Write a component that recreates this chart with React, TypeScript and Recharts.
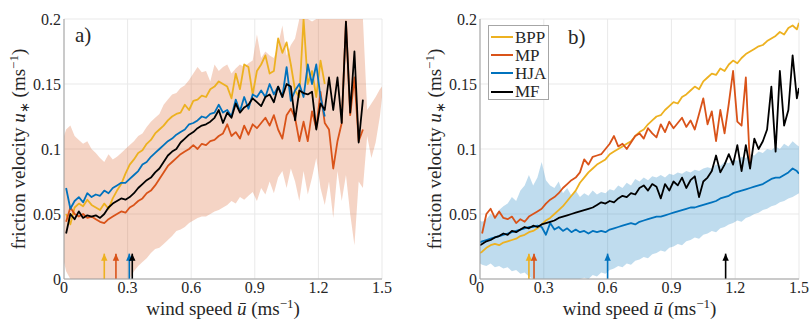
import {
  ComposedChart,
  Line,
  Area,
  XAxis,
  YAxis,
  CartesianGrid,
  ReferenceLine,
  ReferenceDot,
  Label,
} from "recharts";

const SERIF = '"Liberation Serif", "Times New Roman", serif';
const INK = "#262626";

const SERIES = ["BPP", "MP", "HJA", "MF"];
const COLORS = ["#EDB120", "#D95319", "#0072BD", "#000000"];

const X_TICKS = [0, 0.3, 0.6, 0.9, 1.2, 1.5];
const Y_TICKS = [0, 0.05, 0.1, 0.15, 0.2];
const Y_MAX = 0.2;

// wind speed bin centres (ms^-1)
const U = [
  0, 0.01, 0.03, 0.05, 0.07, 0.09, 0.11, 0.13, 0.15, 0.17, 0.19, 0.21, 0.23, 0.25, 0.27, 0.29,
  0.31, 0.33, 0.35, 0.37, 0.39, 0.41, 0.43, 0.45, 0.47, 0.49, 0.51, 0.53, 0.55, 0.57, 0.59,
  0.61, 0.63, 0.65, 0.67, 0.69, 0.71, 0.73, 0.75, 0.77, 0.79, 0.81, 0.83, 0.85, 0.87, 0.89,
  0.91, 0.93, 0.95, 0.97, 0.99, 1.01, 1.03, 1.05, 1.07, 1.09, 1.11, 1.13, 1.15, 1.17, 1.19,
  1.21, 1.23, 1.25, 1.27, 1.29, 1.31, 1.33, 1.35, 1.37, 1.39, 1.41, 1.43, 1.45, 1.47, 1.49, 1.5,
];

// panel a) -- lines start at u = 0.01
const BPP_A = [
  0.050, 0.042, 0.055, 0.058, 0.056, 0.061, 0.057, 0.055, 0.053, 0.058,
  0.054, 0.062, 0.068, 0.073, 0.081, 0.088, 0.092, 0.097, 0.099, 0.104,
  0.107, 0.112, 0.115, 0.118, 0.122, 0.125, 0.127, 0.128, 0.134, 0.130,
  0.137, 0.138, 0.141, 0.140, 0.146, 0.148, 0.152, 0.150, 0.148, 0.139,
  0.158, 0.146, 0.165, 0.163, 0.142, 0.160, 0.165, 0.172, 0.158, 0.160,
  0.185, 0.174, 0.182, 0.165, 0.145, 0.140, 0.200, 0.150, 0.160, 0.140,
  0.168, 0.150,
];
const MP_A = [
  0.044, 0.055, 0.050, 0.048, 0.050, 0.047, 0.048, 0.046, 0.044, 0.043,
  0.046, 0.048, 0.050, 0.052, 0.051, 0.055, 0.057, 0.060, 0.062, 0.066,
  0.068, 0.072, 0.077, 0.082, 0.087, 0.090, 0.093, 0.096, 0.098, 0.100,
  0.103, 0.100, 0.104, 0.103, 0.106, 0.107, 0.110, 0.112, 0.119, 0.110,
  0.113, 0.108, 0.118, 0.111, 0.119, 0.116, 0.120, 0.124, 0.118, 0.126,
  0.115, 0.108, 0.126, 0.131, 0.124, 0.106, 0.121, 0.106, 0.129, 0.116,
  0.144, 0.120, 0.115, 0.085, 0.106, 0.120, 0.198, 0.126, 0.155, 0.106,
  0.115,
];
const HJA_A = [
  0.070, 0.054, 0.060, 0.063, 0.059, 0.066, 0.063, 0.065, 0.064, 0.068,
  0.066, 0.070, 0.072, 0.074, 0.074, 0.077, 0.080, 0.083, 0.088, 0.090,
  0.094, 0.097, 0.100, 0.103, 0.106, 0.108, 0.111, 0.113, 0.115, 0.119,
  0.120, 0.122, 0.125, 0.124, 0.127, 0.128, 0.134, 0.128, 0.130, 0.125,
  0.138, 0.129, 0.140, 0.131, 0.142, 0.140, 0.145, 0.140, 0.150, 0.142,
  0.148, 0.140, 0.163, 0.137, 0.145, 0.150, 0.140, 0.165, 0.150, 0.165,
  0.140, 0.125,
];
const MF_A = [
  0.035, 0.050, 0.046, 0.052, 0.047, 0.049, 0.048, 0.049, 0.047, 0.050,
  0.055, 0.058, 0.060, 0.062, 0.061, 0.063, 0.066, 0.070, 0.073, 0.076,
  0.078, 0.082, 0.085, 0.090, 0.095, 0.098, 0.100, 0.105, 0.108, 0.111,
  0.113, 0.116, 0.118, 0.119, 0.121, 0.124, 0.130, 0.120, 0.128, 0.124,
  0.135, 0.128, 0.132, 0.134, 0.139, 0.136, 0.133, 0.140, 0.142, 0.136,
  0.148, 0.140, 0.150, 0.148, 0.122, 0.145, 0.143, 0.142, 0.144, 0.115,
  0.135, 0.130, 0.155, 0.130, 0.155, 0.120, 0.198, 0.128, 0.175, 0.105,
  0.138,
];
const HI_A = [
  0.110, 0.115, 0.118, 0.110, 0.107, 0.104, 0.106, 0.100, 0.097, 0.093,
  0.090, 0.096, 0.092, 0.094, 0.097, 0.100, 0.103, 0.106, 0.110, 0.112,
  0.117, 0.121, 0.124, 0.127, 0.134, 0.138, 0.142, 0.143, 0.147, 0.149,
  0.153, 0.158, 0.163, 0.159, 0.160, 0.152, 0.165, 0.160, 0.163, 0.165,
  0.158, 0.162, 0.165, 0.163, 0.166, 0.168, 0.188, 0.170, 0.175, 0.172,
  0.170, 0.180, 0.195, 0.172, 0.180, 0.185, 0.200, 0.210, 0.210, 0.198,
  0.210, 0.210, 0.210, 0.205, 0.210, 0.210, 0.210, 0.210, 0.210, 0.210,
  0.210, 0.210, 0.130, 0.135, 0.140, 0.146, 0.148,
];
const LO_A = [
  0.013, 0.006, -0.010, -0.020, -0.020, -0.020, -0.020, -0.020, -0.020, -0.020,
  -0.020, -0.020, -0.020, -0.020, -0.015, -0.005, 0.000, 0.006, 0.010, 0.013,
  0.016, 0.020, 0.023, 0.024, 0.027, 0.030, 0.033, 0.037, 0.038, 0.040,
  0.043, 0.045, 0.047, 0.048, 0.048, 0.050, 0.052, 0.053, 0.055, 0.057,
  0.060, 0.058, 0.063, 0.061, 0.064, 0.067, 0.060, 0.070, 0.065, 0.075,
  0.066, 0.078, 0.083, 0.070, 0.085, 0.075, 0.060, 0.083, 0.065, 0.078,
  0.093, 0.070, 0.057, 0.075, 0.047, 0.083, 0.060, 0.080, 0.050, 0.026,
  0.075, 0.070, 0.110, 0.093, 0.105, 0.125, 0.140,
];

// panel b)
const BPP_B = [
  0.020, 0.021, 0.024, 0.026, 0.027, 0.026, 0.028, 0.029, 0.030, 0.031,
  0.033, 0.034, 0.036, 0.037, 0.039, 0.042, 0.045, 0.047, 0.050, 0.053,
  0.056, 0.060, 0.064, 0.068, 0.074, 0.078, 0.082, 0.085, 0.088, 0.090,
  0.092, 0.096, 0.098, 0.100, 0.102, 0.104, 0.106, 0.110, 0.113, 0.115,
  0.119, 0.122, 0.125, 0.126, 0.130, 0.133, 0.136, 0.135, 0.140, 0.142,
  0.145, 0.148, 0.146, 0.152, 0.155, 0.158, 0.157, 0.162, 0.160, 0.165,
  0.168, 0.166, 0.170, 0.173, 0.175, 0.177, 0.179, 0.180, 0.183, 0.185,
  0.187, 0.190, 0.188, 0.193, 0.195, 0.192, 0.197,
];
// starts at u = 0.01, ends at 1.27
const MP_B = [
  0.035, 0.050, 0.054, 0.047, 0.052, 0.047, 0.046, 0.048, 0.043, 0.046,
  0.044, 0.048, 0.050, 0.052, 0.054, 0.058, 0.061, 0.063, 0.066, 0.070,
  0.073, 0.076, 0.078, 0.082, 0.092, 0.088, 0.094, 0.095, 0.096, 0.100,
  0.104, 0.110, 0.102, 0.104, 0.100, 0.105, 0.110, 0.112, 0.108, 0.116,
  0.112, 0.109, 0.119, 0.113, 0.121, 0.116, 0.120, 0.124, 0.117, 0.122,
  0.115, 0.127, 0.139, 0.119, 0.129, 0.106, 0.130, 0.112, 0.135, 0.160,
  0.121, 0.118, 0.155, 0.085,
];
const HJA_B = [
  0.028, 0.029, 0.030, 0.031, 0.032, 0.033, 0.034, 0.035, 0.036, 0.037,
  0.038, 0.039, 0.040, 0.040, 0.041, 0.040, 0.034, 0.043, 0.038, 0.040,
  0.037, 0.039, 0.036, 0.038, 0.036, 0.037, 0.035, 0.037, 0.036, 0.037,
  0.036, 0.038, 0.039, 0.040, 0.041, 0.042, 0.043, 0.042, 0.044, 0.045,
  0.046, 0.047, 0.048, 0.048, 0.049, 0.050, 0.051, 0.052, 0.053, 0.054,
  0.055, 0.055, 0.056, 0.057, 0.058, 0.059, 0.060, 0.062, 0.063, 0.064,
  0.066, 0.067, 0.068, 0.069, 0.070, 0.071, 0.072, 0.073, 0.075, 0.077,
  0.078, 0.078, 0.080, 0.082, 0.085, 0.083, 0.081,
];
const MF_B = [
  0.026, 0.027, 0.029, 0.030, 0.032, 0.033, 0.035, 0.034, 0.037, 0.036,
  0.038, 0.040, 0.039, 0.041, 0.040, 0.042, 0.043, 0.044, 0.045, 0.047,
  0.048, 0.049, 0.050, 0.051, 0.052, 0.053, 0.054, 0.055, 0.057, 0.059,
  0.058, 0.060, 0.059, 0.062, 0.064, 0.063, 0.066, 0.065, 0.070, 0.072,
  0.068, 0.073, 0.071, 0.062, 0.073, 0.068, 0.075, 0.072, 0.078, 0.070,
  0.076, 0.079, 0.063, 0.075, 0.078, 0.083, 0.095, 0.082, 0.088, 0.096,
  0.088, 0.103, 0.083, 0.103, 0.085, 0.108, 0.100, 0.106, 0.115, 0.148,
  0.098, 0.160, 0.118, 0.130, 0.172, 0.139, 0.147,
];
const HI_B = [
  0.045, 0.044, 0.046, 0.050, 0.048, 0.053, 0.056, 0.058, 0.063, 0.060,
  0.068, 0.072, 0.080, 0.072, 0.078, 0.090, 0.076, 0.072, 0.070, 0.075,
  0.066, 0.070, 0.064, 0.068, 0.063, 0.066, 0.064, 0.068, 0.065, 0.067,
  0.066, 0.069, 0.068, 0.072, 0.070, 0.074, 0.072, 0.077, 0.075, 0.078,
  0.076, 0.079, 0.078, 0.080, 0.078, 0.081, 0.080, 0.082, 0.081, 0.083,
  0.082, 0.084, 0.083, 0.085, 0.086, 0.085, 0.088, 0.087, 0.090, 0.089,
  0.092, 0.091, 0.094, 0.093, 0.096, 0.095, 0.098, 0.097, 0.100, 0.099,
  0.102, 0.100, 0.104, 0.102, 0.106, 0.103, 0.102,
];
const LO_B = [
  0.012, 0.011, 0.010, 0.012, 0.009, 0.010, 0.008, 0.009, 0.006, 0.007,
  0.004, 0.005, 0.002, 0.000, -0.003, -0.008, -0.010, -0.004, -0.006, -0.002,
  -0.005, -0.001, -0.003, 0.000, -0.002, 0.001, 0.000, 0.003, 0.002, 0.005,
  0.004, 0.007, 0.008, 0.010, 0.009, 0.012, 0.011, 0.014, 0.015, 0.017,
  0.016, 0.019, 0.020, 0.022, 0.021, 0.024, 0.025, 0.027, 0.026, 0.029,
  0.030, 0.032, 0.031, 0.034, 0.035, 0.037, 0.036, 0.039, 0.040, 0.042,
  0.043, 0.045, 0.044, 0.047, 0.048, 0.050, 0.051, 0.053, 0.054, 0.056,
  0.057, 0.059, 0.060, 0.062, 0.063, 0.065, 0.066,
];

// threshold wind speeds marked by arrows (BPP, MP, HJA, MF)
const ARROWS_A = [0.19, 0.245, 0.308, 0.322];
const ARROWS_B = [0.23, 0.254, 0.6, 1.155];
const ARROW_TOP = 0.0195;

const pad = (v: number[], start: number) => U.map((_, i) => v[i - start] ?? null);
// the band is cut at the axes limits, like the clipped patch in the figure
const clip = (v: number) => Math.min(Y_MAX, Math.max(0, v));

function table(bpp: any[], mp: any[], hja: any[], mf: any[], lo: number[], hi: number[]) {
  return U.map((u, i) => ({
    u,
    bpp: bpp[i],
    mp: mp[i],
    hja: hja[i],
    mf: mf[i],
    band: [clip(lo[i]), clip(hi[i])],
  }));
}

const DATA_A = table(pad(BPP_A, 1), pad(MP_A, 1), pad(HJA_A, 1), pad(MF_A, 1), LO_A, HI_A);
const DATA_B = table(BPP_B, pad(MP_B, 1), HJA_B, MF_B, LO_B, HI_B);

const KEYS = ["bpp", "mp", "hja", "mf"];

function XLabel({ viewBox }: any) {
  const { x, y, width } = viewBox;
  return (
    <text x={x + width / 2} y={y + 36} textAnchor="middle" fontFamily={SERIF} fontSize={19} fill={INK}>
      {"wind speed "}
      <tspan fontStyle="italic">ū</tspan>
      {" (ms"}
      <tspan dy={-7} fontSize={13}>−1</tspan>
      <tspan dy={7}>)</tspan>
    </text>
  );
}

function YLabel({ viewBox }: any) {
  const { x, y, width, height } = viewBox;
  const cx = x + width - 39;
  const cy = y + height / 2;
  return (
    <text
      x={cx}
      y={cy}
      transform={`rotate(-90 ${cx} ${cy})`}
      textAnchor="middle"
      fontFamily={SERIF}
      fontSize={19}
      fill={INK}
    >
      {"friction velocity "}
      <tspan fontStyle="italic">u</tspan>
      <tspan dy={4} fontSize={13}>∗</tspan>
      <tspan dy={-4}>{" (ms"}</tspan>
      <tspan dy={-7} fontSize={13}>−1</tspan>
      <tspan dy={7}>)</tspan>
    </text>
  );
}

function Panel({
  data,
  arrows,
  band,
  yAxisWidth,
  right,
}: {
  data: any[];
  arrows: number[];
  band: string;
  yAxisWidth: number;
  right: number;
}) {
  const tick = { fontSize: 16, fill: INK, fontFamily: SERIF };
  return (
    <ComposedChart width={405} height={320} data={data} margin={{ top: 19, right, bottom: 0, left: 0 }}>
      <CartesianGrid stroke="#e9e9e9" />
      <XAxis
        type="number"
        dataKey="u"
        domain={[0, 1.5]}
        ticks={X_TICKS}
        tickFormatter={(v) => String(v)}
        tick={tick}
        tickLine={false}
        tickSize={0}
        tickMargin={3}
        axisLine={{ stroke: "#a0a0a0" }}
        height={41}
        allowDataOverflow
      >
        <Label content={XLabel} />
      </XAxis>
      <YAxis
        type="number"
        domain={[0, Y_MAX]}
        ticks={Y_TICKS}
        tickFormatter={(v) => String(v)}
        tick={tick}
        tickLine={false}
        tickSize={0}
        tickMargin={3}
        axisLine={{ stroke: "#a0a0a0" }}
        width={yAxisWidth}
        allowDataOverflow
      >
        <Label content={YLabel} />
      </YAxis>
      <Area
        type="linear"
        dataKey="band"
        stroke="none"
        fill={band}
        fillOpacity={0.25}
        isAnimationActive={false}
        activeDot={false}
        legendType="none"
      />
      {KEYS.map((k, i) => (
        <Line
          key={k}
          type="linear"
          dataKey={k}
          name={SERIES[i]}
          stroke={COLORS[i]}
          strokeWidth={1.8}
          strokeLinejoin="round"
          dot={false}
          activeDot={false}
          isAnimationActive={false}
        />
      ))}
      {arrows.map((x, i) => (
        <ReferenceLine
          key={`shaft${i}`}
          segment={[
            { x, y: 0 },
            { x, y: ARROW_TOP },
          ]}
          stroke={COLORS[i]}
          strokeWidth={1.6}
        />
      ))}
      {arrows.map((x, i) => (
        <ReferenceDot
          key={`head${i}`}
          x={x}
          y={ARROW_TOP}
          shape={(p: any) => <path d={`M${p.cx},${p.cy}l-3.2,7h6.4z`} fill={COLORS[i]} />}
        />
      ))}
    </ComposedChart>
  );
}

export default function App() {
  const panelLabel = { position: "absolute" as const, fontFamily: SERIF, fontSize: 21, lineHeight: 1, color: INK };
  return (
    <div style={{ position: "absolute", left: 0, top: 0, width: 810, height: 320, background: "#fff" }}>
      <div style={{ position: "absolute", left: 0, top: 0 }}>
        <Panel data={DATA_A} arrows={ARROWS_A} band={COLORS[1]} yAxisWidth={64} right={23} />
      </div>
      <div style={{ position: "absolute", left: 405, top: 0 }}>
        <Panel data={DATA_B} arrows={ARROWS_B} band={COLORS[2]} yAxisWidth={75} right={11} />
      </div>
      <span style={{ ...panelLabel, left: 75, top: 25 }}>a)</span>
      <span style={{ ...panelLabel, left: 568, top: 27 }}>b)</span>
      <div
        style={{
          position: "absolute",
          left: 488,
          top: 25,
          width: 61,
          height: 75,
          border: "1px solid #a6a6a6",
          background: "#fff",
          paddingTop: 2,
          boxSizing: "border-box",
        }}
      >
        {SERIES.map((s, i) => (
          <div key={s} style={{ display: "flex", alignItems: "center", height: 18.2 }}>
            <div style={{ width: 22, height: 2, background: COLORS[i], marginLeft: 2, marginRight: 2 }} />
            <span style={{ fontFamily: SERIF, fontSize: 17, color: INK, lineHeight: 1 }}>{s}</span>
          </div>
        ))}
      </div>
    </div>
  );
}
